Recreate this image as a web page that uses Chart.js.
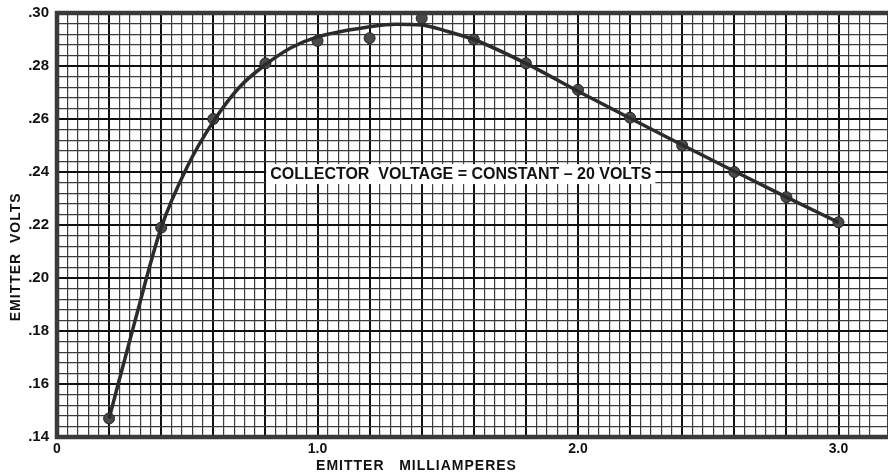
<!DOCTYPE html>
<html lang="en">
<head>
<meta charset="UTF-8">
<title>Emitter volts vs emitter milliamperes</title>
<style>
  html, body { margin: 0; padding: 0; background: #fff; }
  #wrap { width: 888px; height: 473px; }
</style>
</head>
<body>
<div id="wrap"><canvas id="emitterChart" width="888" height="473"></canvas></div>
<script src="https://cdn.jsdelivr.net/npm/chart.js"></script>
<script>
// measured points
var measuredMa = [0.2, 0.4, 0.6, 0.8, 1.0, 1.2, 1.4, 1.6, 1.8, 2.0, 2.2, 2.4, 2.6, 2.8, 3.0];
var measuredVolts = [0.147, 0.219, 0.260, 0.281, 0.2895, 0.2905, 0.298, 0.290, 0.281, 0.271, 0.2605, 0.250, 0.240, 0.2305, 0.221];

// hand drawn curve
var curveMa = [0.2, 0.3, 0.4, 0.5, 0.6, 0.7, 0.8, 0.9, 1.0, 1.2, 1.3, 1.4, 1.5, 1.6, 1.8, 2.0, 2.2, 2.4, 2.6, 2.8, 3.0];
var curveVolts = [0.147, 0.184, 0.219, 0.242, 0.259, 0.272, 0.2805, 0.287, 0.291, 0.2948, 0.2958, 0.2955, 0.293, 0.290, 0.281, 0.2705, 0.2603, 0.2502, 0.2403, 0.2305, 0.221];

var xTickLabels = ['0', '1.0', '2.0', '3.0'];
var yTickLabels = ['.14', '.16', '.18', '.20', '.22', '.24', '.26', '.28', '.30'];

var note = 'COLLECTOR  VOLTAGE = CONSTANT – 20 VOLTS';
var xTitle = 'EMITTER   MILLIAMPERES';
var yTitle = 'EMITTER  VOLTS';

var fam = '"Liberation Sans", Arial, sans-serif';

function toPoints(xs, ys) {
  return xs.map(function (x, i) { return { x: x, y: ys[i] }; });
}

var paperPlugin = {
  id: 'paper',
  afterDraw: function (chart) {
    var c = chart.ctx, a = chart.chartArea;
    var xs = chart.scales.x, ys = chart.scales.y;
    c.save();
    // heavy frame
    c.strokeStyle = '#3a3a3a';
    c.lineWidth = 4.5;
    c.beginPath();
    c.moveTo(a.right + 4, a.top);
    c.lineTo(a.left, a.top);
    c.lineTo(a.left, a.bottom);
    c.lineTo(a.right + 4, a.bottom);
    c.stroke();

    // note with white ground
    c.font = 'bold 16px ' + fam;
    c.textBaseline = 'middle';
    c.textAlign = 'center';
    var nx = xs.getPixelForValue(1.55), ny = ys.getPixelForValue(0.2392);
    var w = c.measureText(note).width;
    c.fillStyle = '#fff';
    c.fillRect(nx - w / 2 - 4, ny - 10, w + 8, 20);
    c.fillStyle = '#111';
    c.fillText(note, nx, ny);

    // axis titles
    c.font = 'bold 14px ' + fam;
    c.letterSpacing = '1px';
    c.fillText(xTitle, xs.getPixelForValue(1.38), 466);
    c.translate(16, ys.getPixelForValue(0.208));
    c.rotate(-Math.PI / 2);
    c.fillText(yTitle, 0, 0);
    c.restore();
  }
};

function gridColor(ctx) { return ctx.index % 5 === 0 ? '#111' : '#3c3c3c'; }
function gridWidth(ctx) { return ctx.index % 5 === 0 ? 2 : 1.2; }

new Chart(document.getElementById('emitterChart').getContext('2d'), {
  type: 'scatter',
  data: {
    datasets: [{
      label: 'curve',
      data: toPoints(curveMa, curveVolts),
      showLine: true,
      borderColor: '#2b2b2b',
      borderWidth: 3.5,
      pointRadius: 0,
      cubicInterpolationMode: 'monotone'
    }, {
      label: 'measured',
      data: toPoints(measuredMa, measuredVolts),
      showLine: false,
      pointRadius: 5.5,
      backgroundColor: '#4a4a4a',
      borderColor: '#222',
      borderWidth: 1
    }]
  },
  options: {
    responsive: false,
    animation: false,
    layout: { autoPadding: false, padding: { top: 13, right: 0, left: 0, bottom: 0 } },
    plugins: { legend: { display: false }, tooltip: { enabled: false } },
    scales: {
      x: {
        type: 'linear', min: 0, max: 3.19,
        afterFit: function (s) { s.height = 36; },
        border: { display: false },
        grid: { color: gridColor, lineWidth: gridWidth, tickLength: 4, tickColor: 'rgba(0,0,0,0)' },
        ticks: {
          stepSize: 0.04, maxTicksLimit: 1000, autoSkip: false, maxRotation: 0,
          padding: 0, color: '#111', font: { family: fam, weight: 'bold', size: 14 },
          callback: function (v, i) { return i % 25 === 0 ? (xTickLabels[i / 25] || '') : ''; }
        }
      },
      y: {
        type: 'linear', min: 0.14, max: 0.30,
        afterFit: function (s) { s.width = 57; },
        border: { display: false },
        grid: { color: gridColor, lineWidth: gridWidth, tickLength: 8, tickColor: 'rgba(0,0,0,0)' },
        ticks: {
          stepSize: 0.004, maxTicksLimit: 1000, autoSkip: false,
          padding: 0, color: '#111', font: { family: fam, weight: 'bold', size: 15 },
          callback: function (v, i) { return i % 5 === 0 ? (yTickLabels[i / 5] || '') : ''; }
        }
      }
    }
  },
  plugins: [paperPlugin]
});
</script>
</body>
</html>
